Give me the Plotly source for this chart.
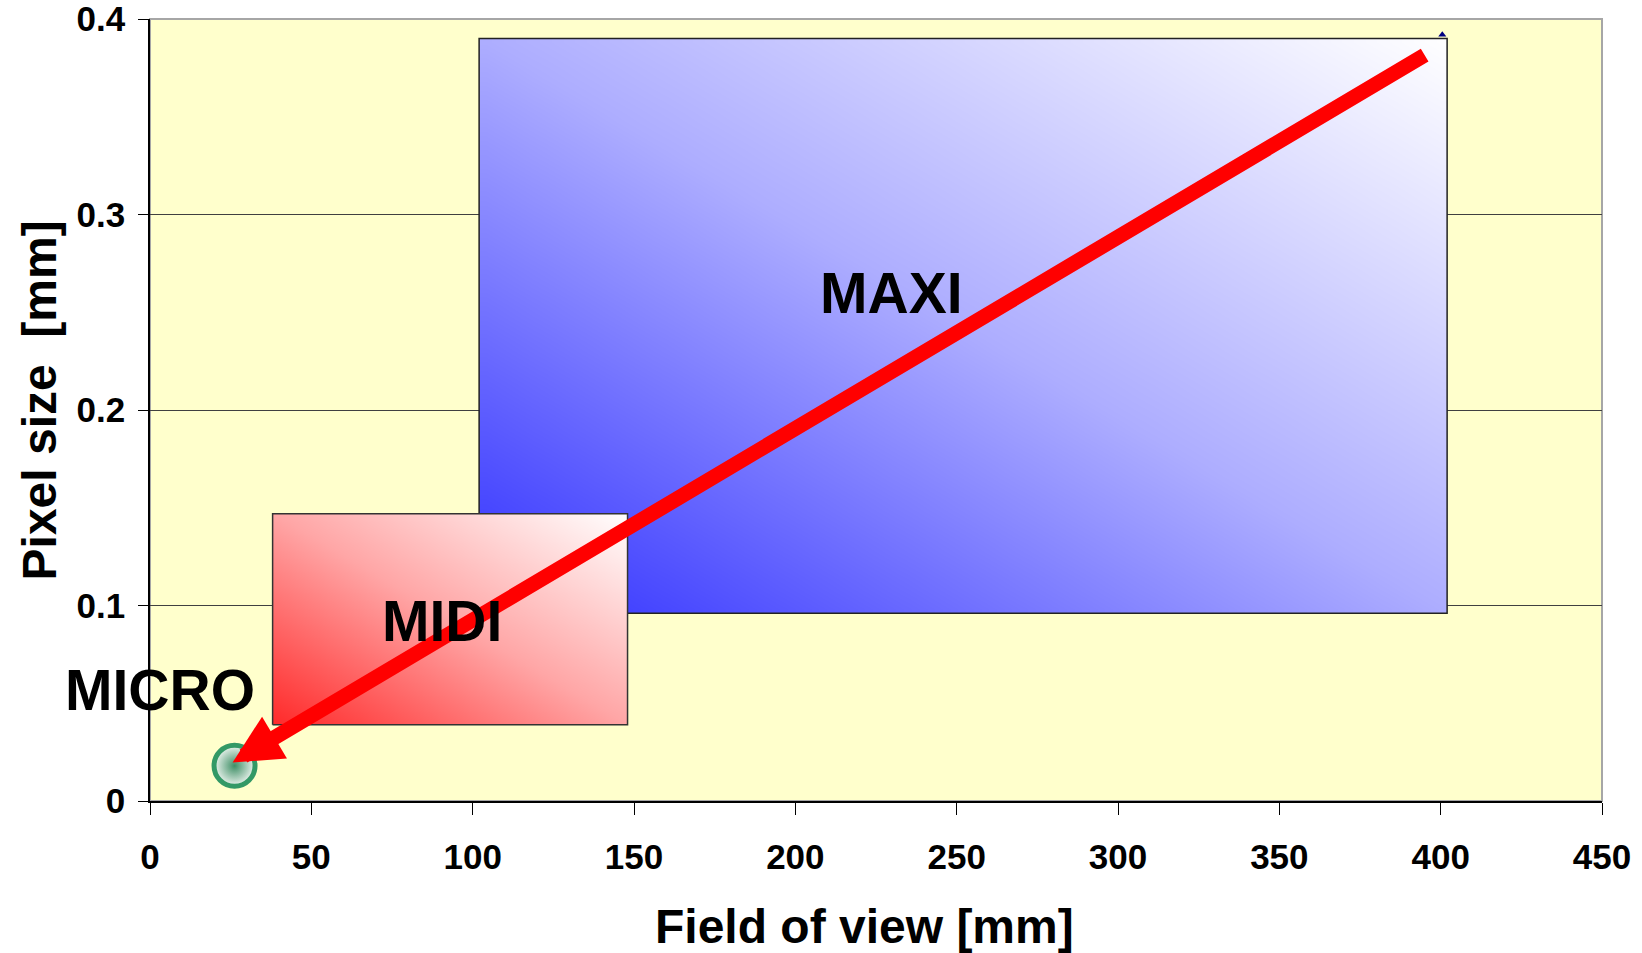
import numpy as np
import plotly.graph_objects as go

# Imaging regimes: field of view [mm] vs pixel size [mm]
maxi_x = [102, 402]
maxi_y = [0.096, 0.39]
midi_x = [38, 148]
midi_y = [0.039, 0.147]
micro_x = [26.2]
micro_y = [0.018]

# trend arrow: start (large FOV) -> tip (MICRO)
arrow_start = (395.5, 0.382)
arrow_tip = (25.6, 0.0197)

region_labels = ["MAXI", "MIDI", "MICRO"]
label_x = [229.7, 90.5, 3.2]
label_y = [0.2598, 0.0921, 0.0568]

x_ticks = [0, 50, 100, 150, 200, 250, 300, 350, 400, 450]
y_ticks = [0, 0.1, 0.2, 0.3, 0.4]
y_ticktext = ["0", "0.1", "0.2", "0.3", "0.4"]

x_title = "Field of view [mm]"
y_title = "Pixel size  [mm]"

FONT = "Liberation Sans, Arial, sans-serif"


def gradient_block(xr, yr, dark, mid, n=80):
    """Heatmap filling a rectangle with a diagonal gradient (dark bottom-left -> white top-right)."""
    dx = (xr[1] - xr[0]) / n
    dy = (yr[1] - yr[0]) / n
    xc = xr[0] + dx * (np.arange(n) + 0.5)
    yc = yr[0] + dy * (np.arange(n) + 0.5)
    fx = (np.arange(n) + 0.5) / n
    fy = (np.arange(n) + 0.5) / n
    z = (fx[None, :] + fy[:, None]) / 2.0
    return go.Heatmap(
        x=xc, y=yc, z=z, zmin=0, zmax=1,
        colorscale=[[0, dark], [0.5, mid], [1, "#ffffff"]],
        showscale=False, hoverinfo="skip", zsmooth="best",
    )


fig = go.Figure()

# MAXI block
fig.add_trace(gradient_block(maxi_x, maxi_y, "#3030ff", "#adadff"))
# MIDI block (drawn over MAXI)
fig.add_trace(gradient_block(midi_x, midi_y, "#ff2a2a", "#ffa6a6"))

# MAXI outline (the part not hidden behind MIDI)
fig.add_trace(go.Scatter(
    x=[midi_x[1], maxi_x[1], maxi_x[1], maxi_x[0], maxi_x[0]],
    y=[maxi_y[0], maxi_y[0], maxi_y[1], maxi_y[1], midi_y[1]],
    mode="lines", line=dict(color="#222222", width=1.5),
    hoverinfo="skip", showlegend=False,
))
# MIDI outline
fig.add_trace(go.Scatter(
    x=[midi_x[0], midi_x[1], midi_x[1], midi_x[0], midi_x[0]],
    y=[midi_y[0], midi_y[0], midi_y[1], midi_y[1], midi_y[0]],
    mode="lines", line=dict(color="#333333", width=1.5),
    hoverinfo="skip", showlegend=False,
))

# corner data point of the MAXI range
fig.add_trace(go.Scatter(
    x=[maxi_x[1] - 1.5], y=[maxi_y[1] + 0.002], mode="markers",
    marker=dict(symbol="triangle-up", size=7, color="#000080"),
    hoverinfo="skip", showlegend=False,
))

# MICRO point
fig.add_trace(go.Scatter(
    x=micro_x, y=micro_y, mode="markers",
    marker=dict(
        size=41, color="#eef5f0",
        gradient=dict(type="radial", color="#3f8f66"),
        line=dict(color="#339966", width=5),
    ),
    hoverinfo="skip", showlegend=False,
))

# red trend arrow
fig.add_annotation(
    x=arrow_tip[0], y=arrow_tip[1], ax=arrow_start[0], ay=arrow_start[1],
    xref="x", yref="y", axref="x", ayref="y",
    text="", showarrow=True, arrowhead=2, arrowsize=0.65, arrowwidth=15,
    arrowcolor="#ff0000", standoff=0,
)

# region labels
for t, lx, ly in zip(region_labels, label_x, label_y):
    fig.add_annotation(
        x=lx, y=ly, xref="x", yref="y", text=t, showarrow=False,
        font=dict(family=FONT, size=57, color="#000000", weight="bold"),
    )

# axis titles
fig.add_annotation(
    x=0.4924, y=-0.1611, xref="paper", yref="paper", text=x_title,
    showarrow=False, xanchor="center", yanchor="middle",
    font=dict(family=FONT, size=48, color="#000000", weight="bold"),
)
fig.add_annotation(
    x=-0.0758, y=0.5121, xref="paper", yref="paper", text=y_title,
    showarrow=False, textangle=-90, xanchor="center", yanchor="middle",
    font=dict(family=FONT, size=48, color="#000000", weight="bold"),
)

# light frame on top/right of the plot area
fig.add_shape(
    type="rect", xref="paper", yref="paper", x0=0, x1=1, y0=0, y1=1,
    line=dict(color="#a6a6a6", width=2), layer="below",
)

fig.update_layout(
    width=1642, height=953,
    margin=dict(l=150, r=40, t=19, b=152),
    paper_bgcolor="#ffffff",
    plot_bgcolor="#ffffcc",
    showlegend=False,
    font=dict(family=FONT, color="#000000"),
)

fig.update_xaxes(
    range=[0, 450], tickvals=x_ticks, automargin=False,
    showgrid=False, zeroline=False,
    showline=True, linecolor="#000000", linewidth=1.5,
    ticks="outside", ticklen=12, tickwidth=1.2, tickcolor="#000000",
    ticklabelstandoff=12, ticklabeloverflow="allow",
    tickfont=dict(family=FONT, size=35, weight="bold"),
)

fig.update_yaxes(
    range=[0, 0.40002], tickvals=y_ticks, ticktext=y_ticktext, automargin=False,
    showgrid=True, gridcolor="#404040", gridwidth=1, zeroline=False,
    showline=True, linecolor="#000000", linewidth=1.5,
    ticks="outside", ticklen=10, tickwidth=1.2, tickcolor="#000000",
    ticklabelstandoff=6, ticklabeloverflow="allow",
    tickfont=dict(family=FONT, size=35, weight="bold"),
)

fig.write_html("out.html")
